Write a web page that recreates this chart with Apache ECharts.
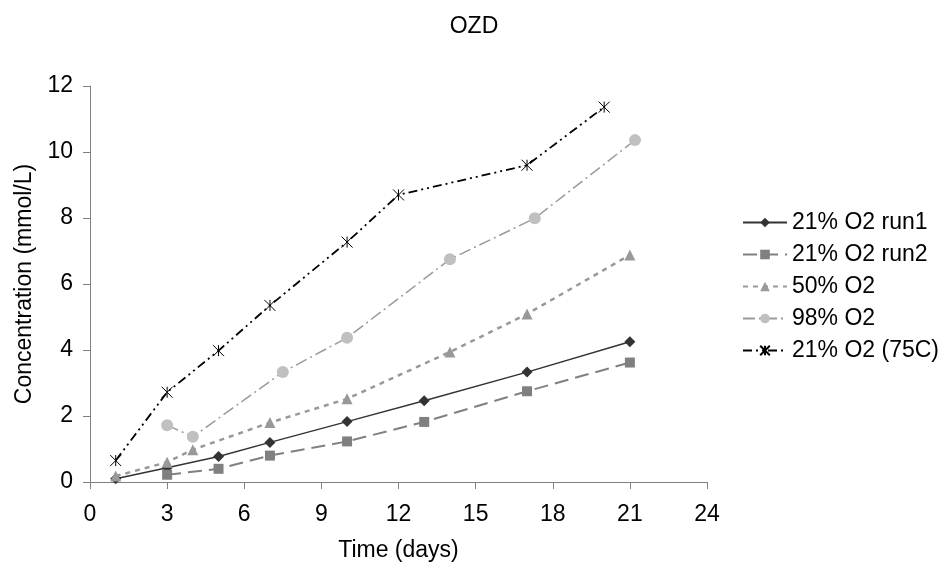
<!DOCTYPE html>
<html><head><meta charset="utf-8">
<script src="https://cdn.jsdelivr.net/npm/echarts@6/dist/echarts.min.js"></script>
<style>html,body{margin:0;padding:0;background:#fff}#c{width:942px;height:568px}</style>
</head><body><div id="c"></div>
<script>
const seriesNames = ['21% O2 run1','21% O2 run2','50% O2','98% O2','21% O2 (75C)'];
const run1X = [1,3,5,7,10,13,17,21];
const run1Y = [0.1,0.43,0.77,1.2,1.83,2.46,3.33,4.25];
const run2X = [3,5,7,10,13,17,21];
const run2Y = [0.22,0.4,0.8,1.23,1.82,2.75,3.62];
const o50X = [1,3,4,7,10,14,17,21];
const o50Y = [0.18,0.6,0.98,1.8,2.52,3.94,5.09,6.88];
const o98X = [3,4,7.5,10,14,17.3,21.2];
const o98Y = [1.72,1.37,3.33,4.37,6.75,7.99,10.36];
const c75X = [1,3,5,7,10,12,17,20];
const c75Y = [0.65,2.72,3.98,5.35,7.27,8.7,9.6,11.36];
const xTicks = [0,3,6,9,12,15,18,21,24];
const yTicks = [0,2,4,6,8,10,12];

const pairs = (xs, ys) => xs.map((x, i) => [x, ys[i]]);
const font = 'Liberation Sans, Arial, sans-serif';
const fs = 23;
const asterisk = 'path://M0,0L10,10M10,0L0,10M5,0L5,10';

const chart = echarts.init(document.getElementById('c'));
chart.setOption({
  animation: false,
  title: { text: 'OZD', left: 469, top: 10, textAlign: 'center',
    textStyle: { fontFamily: font, fontSize: fs, fontWeight: 'normal', color: '#000' } },
  grid: { left: 90, right: 235, top: 86, bottom: 86 },
  legend: {
    orient: 'vertical', left: 737, top: 206, itemWidth: 44, itemHeight: 12, itemGap: 9,
    textStyle: { fontFamily: font, fontSize: fs, color: '#000' },
    data: seriesNames
  },
  xAxis: {
    type: 'value', min: xTicks[0], max: xTicks[xTicks.length-1], interval: 3,
    name: 'Time (days)', nameLocation: 'middle', nameGap: 57,
    nameTextStyle: { fontFamily: font, fontSize: fs, color: '#000' },
    axisLine: { lineStyle: { color: '#808080', width: 1 } },
    axisTick: { length: 7, lineStyle: { color: '#808080' } },
    axisLabel: { fontFamily: font, fontSize: fs, color: '#000', margin: 21 },
    splitLine: { show: false }
  },
  yAxis: {
    type: 'value', min: yTicks[0], max: yTicks[yTicks.length-1], interval: 2,
    name: 'Concentration (mmol/L)', nameLocation: 'middle', nameGap: 54,
    nameTextStyle: { fontFamily: font, fontSize: fs, color: '#000' },
    axisLine: { show: true, lineStyle: { color: '#808080', width: 1 } },
    axisTick: { show: true, length: 7, lineStyle: { color: '#808080' } },
    axisLabel: { fontFamily: font, fontSize: fs, color: '#000', margin: 17 },
    splitLine: { show: false }
  },
  series: [
    { name: seriesNames[0], type: 'line', data: pairs(run1X, run1Y),
      symbol: 'diamond', symbolSize: 11,
      itemStyle: { color: '#333333' }, lineStyle: { color: '#333333', width: 1.5, type: 'solid' } },
    { name: seriesNames[1], type: 'line', data: pairs(run2X, run2Y),
      symbol: 'rect', symbolSize: 10,
      itemStyle: { color: '#808080' }, lineStyle: { color: '#808080', width: 2, type: [14, 7] } },
    { name: seriesNames[2], type: 'line', data: pairs(o50X, o50Y),
      symbol: 'triangle', symbolSize: 11,
      itemStyle: { color: '#999999' }, lineStyle: { color: '#999999', width: 2.5, type: [5, 5] } },
    { name: seriesNames[3], type: 'line', data: pairs(o98X, o98Y),
      symbol: 'circle', symbolSize: 12,
      itemStyle: { color: '#c0c0c0' }, lineStyle: { color: '#9a9a9a', width: 1.5, type: [12, 4, 2, 4] } },
    { name: seriesNames[4], type: 'line', data: pairs(c75X, c75Y),
      symbol: asterisk, symbolSize: 11,
      itemStyle: { color: 'none', borderColor: '#000', borderWidth: 1 },
      lineStyle: { color: '#000', width: 1.8, type: [9, 4, 2, 4, 2, 4] } }
  ]
});
</script></body></html>
